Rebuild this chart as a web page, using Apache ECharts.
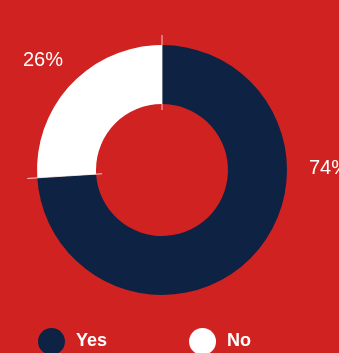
<!DOCTYPE html>
<html><head><meta charset="utf-8">
<script src="https://cdn.jsdelivr.net/npm/echarts@6/dist/echarts.min.js"></script>
<style>html,body{margin:0;padding:0;background:#d12222;}#c{width:339px;height:353px;}</style>
</head><body><div id="c"></div>
<script>
const categories = ['Yes', 'No'];
const values = [74, 26];
const colors = ['#0e2244', '#ffffff'];

const chart = echarts.init(document.getElementById('c'));
const CX = 162, CY = 170;
const total = values.reduce((a, b) => a + b, 0);

chart.setOption({
  backgroundColor: '#d12222',
  animation: false,
  legend: {
    data: categories,
    left: 38, top: 328,
    padding: 0,
    icon: 'circle',
    itemWidth: 27, itemHeight: 27,
    itemGap: 82,
    textStyle: { color: '#fff', fontSize: 18, fontWeight: 'bold', fontFamily: 'Liberation Sans, Arial, sans-serif', padding: [0, 0, 0, 6] }
  },
  series: [{
    type: 'pie',
    center: [CX, CY],
    radius: [66, 125],
    startAngle: 90,
    clockwise: true,
    silent: true,
    data: categories.map((c, i) => ({ name: c, value: values[i], itemStyle: { color: colors[i] } })),
    label: {
      show: true,
      position: 'outside',
      color: '#fff',
      fontSize: 20,
      overflow: 'none',
      width: 80,
      fontFamily: 'Liberation Sans, Arial, sans-serif',
      formatter: p => Math.round(p.percent) + '%'
    },
    labelLine: { show: false },
    labelLayout: function (p) {
      if (p.dataIndex === 0) return { x: 309, y: 168, align: 'left', verticalAlign: 'middle' };
      return { x: 43, y: 60, align: 'center', verticalAlign: 'middle' };
    }
  }, {
    type: 'custom',
    coordinateSystem: 'none',
    silent: true,
    z: 10,
    data: values.map((v, i) => [i]),
    renderItem: function (params, api) {
      const i = params.dataIndex;
      let cum = 0;
      for (let k = 0; k < i; k++) cum += values[k];
      const ang = cum / total * Math.PI * 2;
      const r0 = 60, r1 = 135;
      return {
        type: 'line',
        shape: {
          x1: CX + Math.sin(ang) * r0, y1: CY - Math.cos(ang) * r0,
          x2: CX + Math.sin(ang) * r1, y2: CY - Math.cos(ang) * r1
        },
        style: { stroke: 'rgba(255,255,255,0.75)', lineWidth: 1 }
      };
    }
  }]
});
</script></body></html>
